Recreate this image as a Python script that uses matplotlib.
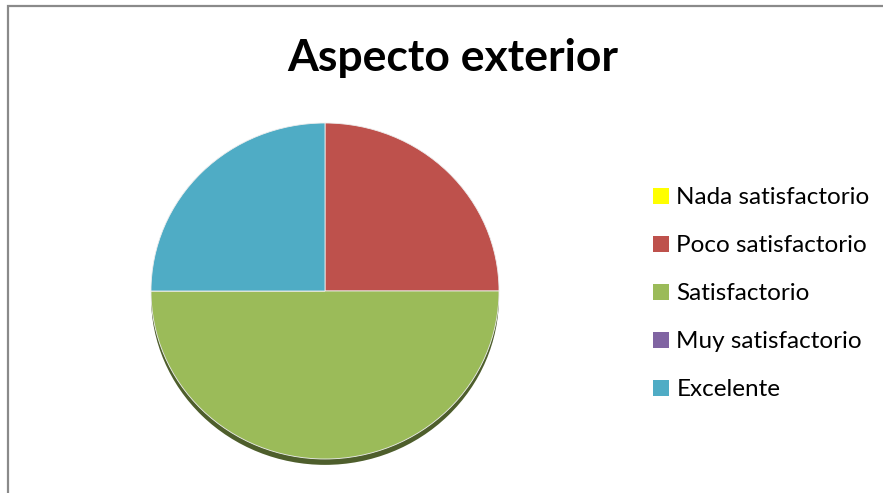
import matplotlib
matplotlib.use("Agg")
import matplotlib.pyplot as plt
from matplotlib.patches import Rectangle
import matplotlib.colors as mcolors

categories = ["Nada satisfactorio", "Poco satisfactorio", "Satisfactorio",
              "Muy satisfactorio", "Excelente"]
values = [0, 25, 50, 0, 25]
colors = ["#FFFF00", "#BE514C", "#9BBB59", "#8064A2", "#4FACC5"]
title = "Aspecto exterior"

W, H = 883, 493
fig = plt.figure(figsize=(W / 100, H / 100), dpi=100)
fig.patch.set_facecolor("white")

# outer frame (top and left visible, extends beyond right/bottom)
fig.add_artist(Rectangle((8 / W, -0.05), 1.2, (H - 6) / H + 0.05,
                         transform=fig.transFigure, fill=False,
                         edgecolor="#8a8a8a", linewidth=1.6))

# pie axes: ellipse 348 x 336 px
ax = fig.add_axes([151 / W, (H - 459) / H, 348 / W, 336 / H])

shadow_cols = [mcolors.to_hex([c * 0.5 for c in mcolors.to_rgb(col)]) for col in colors]
ax.pie(values, colors=shadow_cols, startangle=90, counterclock=False,
       radius=1.0, center=(0, -0.035), frame=True,
       wedgeprops=dict(linewidth=0))
wedges, _ = ax.pie(values, colors=colors, startangle=90, counterclock=False,
                   radius=1.0, center=(0, 0), frame=True,
                   wedgeprops=dict(linewidth=0.6, edgecolor="#eeeeee"))
ax.set_aspect("auto")
ax.set_xlim(-1, 1)
ax.set_ylim(-1, 1)
ax.axis("off")

fig.text(453 / W, 1 - 58 / H, title, ha="center", va="center",
         fontsize=32, fontweight="bold", family="Lato")

leg = fig.legend(wedges, categories, loc="upper left",
                 bbox_to_anchor=(646 / W, 1 - 180 / H), frameon=False,
                 prop=dict(family="Lato", size=17.5),
                 handlelength=0.65, handleheight=0.65, handletextpad=0.3,
                 labelspacing=1.11, borderaxespad=0, borderpad=0.3)
for h in leg.legend_handles:
    h.set_linewidth(0)

fig.savefig("out.png", dpi=100)
